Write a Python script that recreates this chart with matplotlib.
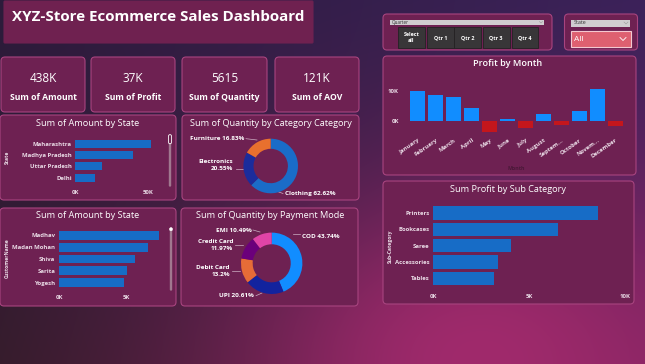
import numpy as np
import matplotlib.pyplot as plt
from matplotlib.patches import FancyBboxPatch

plt.rcParams['font.family'] = ['Open Sans', 'DejaVu Sans']

W, H = 645, 364

kpi_values = ["438K", "37K", "5615", "121K"]
kpi_labels = ["Sum of Amount", "Sum of Profit", "Sum of Quantity", "Sum of AOV"]

states = ["Maharashtra", "Madhya Pradesh", "Uttar Pradesh", "Delhi"]
state_amount = [52000, 39600, 18200, 13700]

customers = ["Madhav", "Madan Mohan", "Shiva", "Sarita", "Yogesh"]
customer_amount = [7470, 6630, 5670, 5080, 4850]

categories = ["Clothing", "Electronics", "Furniture"]
category_pct = [62.62, 20.55, 16.83]

pay_modes = ["COD", "UPI", "Debit Card", "Credit Card", "EMI"]
pay_pct = [43.74, 20.61, 13.2, 11.97, 10.49]

months = ["January", "February", "March", "April", "May", "June", "July",
          "August", "Septem...", "October", "Novem...", "December"]
month_profit = [9900, 8600, 7900, 4300, -3500, 600, -2200, 2300, -1200, 3300, 10600, -1600]

sub_cats = ["Printers", "Bookcases", "Saree", "Accessories", "Tables"]
sub_profit = [8580, 6490, 4050, 3370, 3160]

quarters = ["Select\nall", "Qtr 1", "Qtr 2", "Qtr 3", "Qtr 4"]

PANEL = "#6e2152"
EDGE = "#a8447f"
BAR = "#176cc6"
TXT = "white"
TICK = "#eadbe6"

fig = plt.figure(figsize=(6.45, 3.64), dpi=100)

# background gradient
yy, xx = np.mgrid[0:H, 0:W]
top = np.array([0x2c, 0x1b, 0x3b]) * (1 - xx[..., None] / W) + np.array([0x3c, 0x22, 0x5a]) * (xx[..., None] / W)
bot = np.array([0x36, 0x1c, 0x2c]) * (1 - xx[..., None] / W) + np.array([0x7a, 0x22, 0x60]) * (xx[..., None] / W)
t = (yy[..., None] / H) ** 1.2
base = top * (1 - t) + bot * t
glow = np.exp(-((xx - 480) / 220.0) ** 2 - ((yy - 360) / 160.0) ** 2)[..., None]
img = base * (1 - glow) + np.array([0xa0, 0x2a, 0x6c]) * glow
bg = fig.add_axes([0, 0, 1, 1])
bg.imshow(img.astype(np.uint8), extent=(0, W, H, 0), aspect='auto')
bg.set_xlim(0, W)
bg.set_ylim(H, 0)
bg.axis('off')


def panel(x0, y0, x1, y1, fc=PANEL, ec=EDGE, r=4, lw=0.8):
    bg.add_patch(FancyBboxPatch((x0, y0), x1 - x0, y1 - y0,
                                boxstyle=f"round,pad=0,rounding_size={r}",
                                fc=fc, ec=ec, lw=lw))


def chevron(cx, cy, w, color, lw):
    bg.plot([cx - w, cx, cx + w], [cy - w / 2, cy + w / 2, cy - w / 2], color=color, lw=lw)


def add_ax(x0, y0, x1, y1):
    ax = fig.add_axes([x0 / W, 1 - y1 / H, (x1 - x0) / W, (y1 - y0) / H])
    ax.patch.set_alpha(0)
    for s in ax.spines.values():
        s.set_visible(False)
    return ax


def hbars(box, labels, vals, xmax, ticks, tlabels, h, ypad, xpad):
    ax = add_ax(*box)
    ax.barh(range(len(vals)), vals, height=h, color=BAR)
    ax.set_ylim(len(vals) - 0.5, -0.5)
    ax.set_xlim(0, xmax)
    ax.set_yticks(range(len(labels)), labels)
    ax.set_xticks(ticks, tlabels)
    ax.tick_params(length=0, labelsize=4.3, labelcolor=TICK)
    ax.tick_params(axis='y', pad=ypad)
    ax.tick_params(axis='x', pad=xpad)
    for lb in ax.get_xticklabels() + ax.get_yticklabels():
        lb.set_fontweight('bold')
    return ax


# title
panel(4, 1, 313, 43, fc="#6f2150", ec="#6f2150", r=1)
bg.text(12, 17, "XYZ-Store Ecommerce Sales Dashboard", color=TXT, fontsize=10.9,
        fontweight='bold', va='center', ha='left')

# quarter slicer
panel(383, 14, 552, 50, r=4)
bg.add_patch(FancyBboxPatch((390, 19.5), 154, 5.5, boxstyle="square,pad=0", fc="#d0cdd0", ec="none"))
bg.text(392, 22.3, "Quarter", fontsize=3.3, color="#333333", va='center')
chevron(541, 22.3, 1.6, "#999999", 0.4)
qx = [398.3, 427, 454.3, 483, 511.7]
for i, q in enumerate(quarters):
    bg.add_patch(FancyBboxPatch((qx[i], 27.3), 26.5, 20.4, boxstyle="square,pad=0",
                                fc="#383638", ec="#242224", lw=0.6))
    bg.text(qx[i] + 13.2, 37.5, q, fontsize=3.9, color=TXT, fontweight='bold',
            ha='center', va='center', linespacing=1.3)

# state slicer
panel(564.5, 14, 637.5, 50, r=4)
bg.add_patch(FancyBboxPatch((571, 19.5), 59, 7, boxstyle="square,pad=0", fc="#d0cdd0", ec="none"))
bg.text(574, 23, "State", fontsize=3.9, color="#333333", va='center')
chevron(626, 23, 2, "#999999", 0.4)
bg.add_patch(FancyBboxPatch((571, 30.7), 60, 16.6, boxstyle="square,pad=0",
                            fc="#de6070", ec="#f4c8d0", lw=0.8))
bg.text(574.5, 39.5, "All", fontsize=6, color=TXT, va='center')
chevron(623, 39, 3, TXT, 0.6)

# KPI cards
kpi_x = [(1, 85), (91, 175), (182, 267), (275, 359)]
for (x0, x1), v, lab in zip(kpi_x, kpi_values, kpi_labels):
    panel(x0, 57, x1, 112)
    cx = (x0 + x1) / 2
    bg.text(cx, 79, v, fontsize=8.5, color=TXT, ha='center', va='center')
    bg.text(cx, 97.5, lab, fontsize=6.2, color=TXT, ha='center', va='center', fontweight='bold')

# panels for charts
panel(0, 115, 176, 200)
panel(182, 115, 359, 200)
panel(383, 56, 636, 175)
panel(0, 208, 176, 306)
panel(181, 208, 358, 306)
panel(383, 181, 634, 304)

title_kw = dict(fontsize=6.6, color=TXT, ha='center', va='center')
bg.text(88, 123, "Sum of Amount by State", **title_kw)
bg.text(270.5, 123.5, "Sum of Quantity by Category Category", **title_kw)
bg.text(508, 63.5, "Profit by Month", fontsize=6.6, color=TXT, ha='center', va='center', fontweight='semibold')
bg.text(88, 216, "Sum of Amount by State", **title_kw)
bg.text(270, 216, "Sum of Quantity by Payment Mode", **title_kw)
bg.text(508, 189, "Sum Profit by Sub Category", **title_kw)

# state bars
hbars((75, 138, 160, 183.4), states, state_amount, 58000, [0, 50000], ["0K", "50K"], 0.7, 2.4, 4.4)
bg.text(7, 157, "State", rotation=90, fontsize=3.6, color=TICK, ha='center', va='center', fontweight='bold')
bg.add_patch(FancyBboxPatch((168.8, 134.7), 2.4, 52, boxstyle="round,pad=0,rounding_size=1.2", fc="#a0788f", ec="none"))
bg.add_patch(FancyBboxPatch((168.6, 134.7), 2.8, 9, boxstyle="round,pad=0,rounding_size=1.2", fc="#6e2152", ec="white", lw=0.6))

# customer bars
hbars((59.3, 229.4, 165, 288.6), customers, customer_amount, 7930, [0, 5000], ["0K", "5K"], 0.75, 3, 4.5)
bg.text(7, 258, "CustomerName", rotation=90, fontsize=3.6, color=TICK, ha='center', va='center', fontweight='bold')
bg.add_patch(FancyBboxPatch((169.8, 227.7), 2.4, 63, boxstyle="round,pad=0,rounding_size=1.2", fc="#a0788f", ec="none"))
bg.add_patch(FancyBboxPatch((169.6, 227.7), 2.8, 3, boxstyle="round,pad=0,rounding_size=1.2", fc="white", ec="white", lw=0.4))

# sub category bars
hbars((433.3, 204.8, 625, 286.5), sub_cats, sub_profit, 10000, [0, 5000, 10000], ["0K", "5K", "10K"], 0.8, 2.9, 5.5)
bg.text(390, 246.7, "Sub-Category", rotation=90, fontsize=3.6, color=TICK, ha='center', va='center', fontweight='bold')

# profit by month
ax = add_ax(408.7, 85, 624.3, 135)
cols = ["#118DFF" if v >= 0 else "#C4161C" for v in month_profit]
ax.bar(range(len(months)), month_profit, width=0.83, color=cols)
ax.set_xlim(-0.5, 11.5)
ax.set_ylim(-4620, 11880)
ax.set_yticks([0, 10000], ["0K", "10K"])
ax.set_xticks(range(len(months)), months, rotation=35, ha='right', rotation_mode='anchor')
ax.tick_params(length=0, labelsize=4.3, labelcolor=TICK)
ax.tick_params(axis='y', pad=7)
ax.tick_params(axis='x', pad=2)
for lb in ax.get_xticklabels() + ax.get_yticklabels():
    lb.set_fontweight('bold')
bg.text(516.7, 169, "Month", fontsize=3.8, color="#4a1838", ha='center', va='center', fontweight='bold')


def donut(cx, cy, r, vals, colors, w):
    s = r * 1.1
    a = add_ax(cx - s, cy - s, cx + s, cy + s)
    a.pie(vals, colors=colors, startangle=90, counterclock=False, radius=1,
          wedgeprops=dict(width=w, edgecolor='none'))
    a.set_xlim(-1.1, 1.1)
    a.set_ylim(-1.1, 1.1)
    return a


lab_kw = dict(fontsize=4.6, color=TXT, fontweight='bold')
line_kw = dict(color="#cdb0c4", lw=0.5)

# category donut
donut(270.7, 166, 27.3, category_pct, ["#1a6cc8", "#1b2c9c", "#e8702e"], 0.37)
bg.text(244, 138.7, f"{categories[2]} {category_pct[2]:g}%", ha='right', va='center', **lab_kw)
bg.plot([246, 257], [138.7, 140], **line_kw)
bg.text(233, 165, f"{categories[1]}\n{category_pct[1]:g}%", ha='right', va='center', linespacing=1.5, **lab_kw)
bg.plot([236, 243], [168.5, 168.5], **line_kw)
bg.text(285, 194, f"{categories[0]} {category_pct[0]:g}%", ha='left', va='center', **lab_kw)
bg.plot([276, 283], [191, 193.5], **line_kw)

# payment donut
donut(271.7, 263.3, 30.7, pay_pct, ["#118DFF", "#12239E", "#E66C37", "#6B007B", "#E044A7"], 0.38)
bg.text(301.5, 236.5, f"{pay_modes[0]} {pay_pct[0]:g}%", ha='left', va='center', **lab_kw)
bg.plot([293, 300], [234, 234], **line_kw)
bg.text(219, 295.7, f"{pay_modes[1]} {pay_pct[1]:g}%", ha='left', va='center', **lab_kw)
bg.plot([256, 262], [295.7, 293], **line_kw)
bg.text(230, 271, f"{pay_modes[2]}\n{pay_pct[2]:g}%", ha='right', va='center', linespacing=1.5, **lab_kw)
bg.plot([232, 240], [270.5, 270.5], **line_kw)
bg.text(233, 244.7, f"{pay_modes[3]}\n{pay_pct[3]:g}%", ha='right', va='center', linespacing=1.5, **lab_kw)
bg.plot([235, 243], [244.5, 244.5], **line_kw)
bg.text(252, 230, f"{pay_modes[4]} {pay_pct[4]:g}%", ha='right', va='center', **lab_kw)
bg.plot([253, 260], [230, 232], **line_kw)

fig.savefig("out.png", dpi=100)
